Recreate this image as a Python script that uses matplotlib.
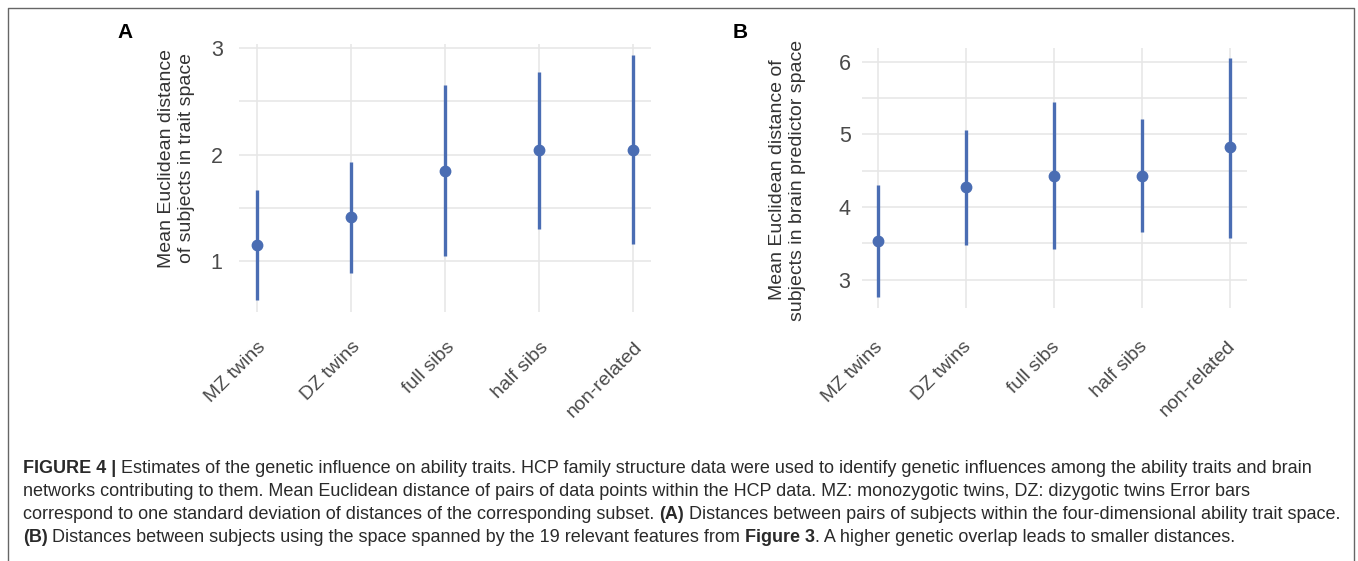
import numpy as np
import matplotlib
matplotlib.use("Agg")
import matplotlib.pyplot as plt
from matplotlib.lines import Line2D
from matplotlib.transforms import blended_transform_factory, ScaledTranslation

# Data
groups = ["MZ twins", "DZ twins", "full sibs", "half sibs", "non-related"]

trait_mean = [1.15, 1.41, 1.85, 2.04, 2.04]
trait_lo = [0.63, 0.89, 1.05, 1.30, 1.16]
trait_hi = [1.67, 1.93, 2.65, 2.78, 2.94]

brain_mean = [3.53, 4.27, 4.43, 4.43, 4.82]
brain_lo = [2.76, 3.48, 3.42, 3.65, 3.58]
brain_hi = [4.30, 5.06, 5.45, 5.21, 6.05]

caption_lines = [
    [("FIGURE 4 |", "bold"),
     (" Estimates of the genetic influence on ability traits. HCP family structure data were used to identify genetic influences among the ability traits and brain", "normal")],
    [("networks contributing to them. Mean Euclidean distance of pairs of data points within the HCP data. MZ: monozygotic twins, DZ: dizygotic twins Error bars", "normal")],
    [("correspond to one standard deviation of distances of the corresponding subset. ", "normal"),
     ("(A)", "bold"),
     (" Distances between pairs of subjects within the four-dimensional ability trait space.", "normal")],
    [("(B)", "bold"),
     (" Distances between subjects using the space spanned by the 19 relevant features from ", "normal"),
     ("Figure 3", "bold"),
     (". A higher genetic overlap leads to smaller distances.", "normal")],
]

# Style
plt.rcParams["font.family"] = ["Liberation Sans", "DejaVu Sans"]
BLUE = "#4a6db3"
GRID = "#e6e6e6"
TICK_COL = "#4a4a4a"
LAB_COL = "#333333"
W, H = 1358, 561

fig = plt.figure(figsize=(W / 100, H / 100), dpi=100)


def px_rect(l, t, r, b):
    return [l / W, 1 - b / H, (r - l) / W, (b - t) / H]


def draw_panel(ax, mean, lo, hi, ylim, yticks, yminor, xlim, ylabel,
               label_xy, tick_pad, xoff, yoff):
    x = np.arange(len(groups))
    ax.vlines(x, lo, hi, color=BLUE, lw=2.4, zorder=3)
    ax.plot(x, mean, "o", color=BLUE, ms=7.5, zorder=4)
    ax.set_xlim(xlim)
    ax.set_ylim(ylim)
    ax.set_yticks(yticks)
    ax.set_yticks(yminor, minor=True)
    ax.set_xticks(x)
    ax.set_xticklabels([])
    ax.grid(True, which="both", color=GRID, lw=1.1)
    ax.set_axisbelow(True)
    ax.tick_params(which="both", length=0)
    ax.tick_params(axis="y", labelsize=15.5, labelcolor=TICK_COL, pad=tick_pad)
    for s in ax.spines.values():
        s.set_visible(False)
    ax.set_ylabel(ylabel, fontsize=14, color=LAB_COL, va="center",
                  linespacing=1.25)
    ax.yaxis.set_label_coords(*label_xy)
    trans = blended_transform_factory(ax.transData, ax.transAxes) + \
        ScaledTranslation(xoff / 100, -yoff / 100, fig.dpi_scale_trans)
    for i, g in enumerate(groups):
        ax.text(i, 0, g, transform=trans, rotation=45, ha="right",
                va="baseline", rotation_mode="anchor", fontsize=14,
                color=TICK_COL)


axA = fig.add_axes(px_rect(239.3, 44, 651, 311.7))
draw_panel(axA, trait_mean, trait_lo, trait_hi, (0.523, 3.04), [1, 2, 3],
           [1.5, 2.5], (-0.185, 4.19),
           "Mean Euclidean distance\nof subjects in trait space",
           (-0.1525, 0.574), 12, 10, 36)

axB = fig.add_axes(px_rect(861.7, 48.3, 1247.3, 308.3))
draw_panel(axB, brain_mean, brain_lo, brain_hi, (2.607, 6.184), [3, 4, 5, 6],
           [3.5, 4.5, 5.5], (-0.182, 4.196),
           "Mean Euclidean distance of\nsubjects in brain predictor space",
           (-0.1924, 0.4935), 8, 6, 39)

fig.text(125 / W, 1 - 33 / H, "A", fontsize=15, fontweight="bold",
         ha="center", va="center", color="black")
fig.text(740 / W, 1 - 33 / H, "B", fontsize=15, fontweight="bold",
         ha="center", va="center", color="black")

# frame around the figure
fig.add_artist(Line2D([7.5 / W, 7.5 / W, 1353.5 / W, 1353.5 / W],
                      [0, 1 - 8 / H, 1 - 8 / H, 0],
                      transform=fig.transFigure, color="#666666", lw=1.0))

# caption with mixed bold / normal pieces
renderer = fig.canvas.get_renderer()


def advance(s, weight, size):
    t1 = fig.text(0, 0, "|" + s + "|", fontsize=size, fontweight=weight)
    t2 = fig.text(0, 0, "||", fontsize=size, fontweight=weight)
    w = t1.get_window_extent(renderer).width - t2.get_window_extent(renderer).width
    t1.remove()
    t2.remove()
    return w


size = 12.0
target = 1347 - 22.7
width3 = sum(advance(s, wgt, size) for s, wgt in caption_lines[2])
size = size * target / width3

baselines = [473, 496, 519, 541.5]
for line, yb in zip(caption_lines, baselines):
    xcur = 22.7
    for s, wgt in line:
        lead = len(s) - len(s.lstrip(" "))
        x0 = xcur + (advance(" " * lead, wgt, size) if lead else 0)
        fig.text(x0 / W, 1 - yb / H, s.strip(" "), fontsize=size,
                 fontweight=wgt, color="#2a2a2a", va="baseline", ha="left")
        xcur += advance(s, wgt, size)

fig.savefig("out.png", dpi=100)
